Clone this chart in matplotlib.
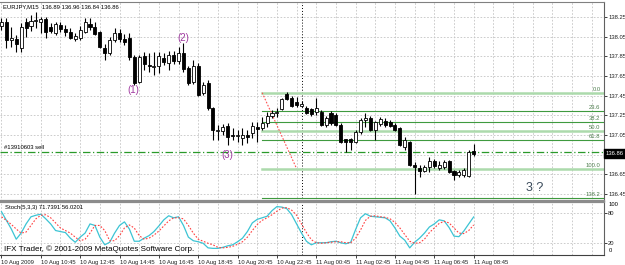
import matplotlib
matplotlib.use("Agg")
import matplotlib.pyplot as plt

plt.rcParams["font.family"] = ["Liberation Sans", "DejaVu Sans"]

# EURJPY M15, bars from 10 Aug 08:45 to 11 Aug 08:45
opens = [138.16, 138.20, 138.02, 138.03, 137.93, 138.20, 138.16, 138.21, 138.20, 138.23,
         138.15, 138.09, 138.17, 138.13, 138.10, 138.03, 138.04, 138.10, 138.18, 138.15,
         138.10, 137.93, 137.88, 138.02, 138.09, 138.03, 138.04, 137.84, 137.59, 137.85,
         137.76, 137.74, 137.75, 137.83, 137.78, 137.86, 137.80, 137.88, 137.73, 137.59,
         137.75, 137.48, 137.58, 137.32, 137.09, 137.09, 137.14, 137.05, 137.04, 137.02,
         137.05, 137.07, 137.13, 137.12, 137.17, 137.24, 137.27, 137.31, 137.47, 137.43,
         137.39, 137.34, 137.32, 137.31, 137.28, 137.28, 137.15, 137.27, 137.25, 137.15,
         137.01, 137.01, 136.98, 137.08, 137.20, 137.22, 137.10, 137.16, 137.19, 137.18,
         137.15, 137.12, 136.93, 136.98, 136.74, 136.71, 136.68, 136.72, 136.78, 136.71,
         136.72, 136.78, 136.68, 136.64, 136.64, 136.63, 136.89]
highs = [138.24, 138.24, 138.15, 138.07, 138.19, 138.24, 138.27, 138.30, 138.25, 138.25,
         138.19, 138.20, 138.20, 138.17, 138.14, 138.09, 138.16, 138.24, 138.24, 138.20,
         138.11, 137.98, 138.05, 138.14, 138.13, 138.08, 138.09, 137.86, 137.86, 137.89,
         137.88, 137.89, 137.89, 137.88, 137.90, 137.90, 137.94, 137.99, 137.75, 137.81,
         137.78, 137.59, 137.61, 137.33, 137.15, 137.16, 137.17, 137.12, 137.10, 137.12,
         137.10, 137.18, 137.18, 137.23, 137.28, 137.30, 137.32, 137.43, 137.49, 137.45,
         137.44, 137.40, 137.34, 137.32, 137.43, 137.30, 137.24, 137.29, 137.27, 137.17,
         137.01, 137.02, 137.10, 137.22, 137.27, 137.24, 137.19, 137.23, 137.22, 137.20,
         137.17, 137.13, 137.03, 136.99, 136.77, 136.74, 136.74, 136.83, 136.81, 136.78,
         136.80, 136.80, 136.69, 136.69, 136.71, 136.90, 136.96]
lows = [138.12, 137.93, 137.94, 137.89, 137.89, 138.05, 138.11, 138.14, 138.09, 138.04,
        138.09, 138.07, 138.10, 138.06, 138.03, 138.01, 138.02, 138.09, 138.12, 138.07,
        137.93, 137.81, 137.86, 138.00, 138.00, 137.97, 137.81, 137.56, 137.58, 137.71,
        137.69, 137.66, 137.68, 137.76, 137.71, 137.77, 137.77, 137.69, 137.56, 137.57,
        137.45, 137.46, 137.30, 137.00, 137.00, 137.05, 136.95, 137.00, 136.98, 136.95,
        136.97, 137.02, 136.98, 137.10, 137.13, 137.22, 137.23, 137.30, 137.41, 137.33,
        137.33, 137.33, 137.26, 137.24, 137.25, 137.14, 137.13, 137.15, 137.14, 136.97,
        136.88, 136.90, 136.97, 137.06, 137.13, 137.09, 137.00, 137.14, 137.13, 137.13,
        137.09, 136.94, 136.90, 136.73, 136.45, 136.62, 136.67, 136.67, 136.71, 136.69,
        136.70, 136.66, 136.59, 136.62, 136.62, 136.62, 136.84]
closes = [138.20, 138.02, 138.04, 137.98, 138.15, 138.14, 138.21, 138.22, 138.23, 138.10,
          138.11, 138.18, 138.13, 138.10, 138.04, 138.06, 138.12, 138.20, 138.15, 138.08,
          137.94, 137.88, 138.02, 138.09, 138.03, 138.00, 137.84, 137.58, 137.84, 137.77,
          137.75, 137.75, 137.85, 137.79, 137.86, 137.80, 137.88, 137.72, 137.58, 137.75,
          137.46, 137.56, 137.32, 137.10, 137.10, 137.13, 137.03, 137.04, 137.05, 137.05,
          137.03, 137.14, 137.11, 137.17, 137.24, 137.27, 137.28, 137.42, 137.42, 137.34,
          137.35, 137.37, 137.27, 137.26, 137.32, 137.15, 137.22, 137.17, 137.15, 136.98,
          136.98, 136.98, 137.08, 137.20, 137.22, 137.10, 137.18, 137.21, 137.15, 137.14,
          137.10, 136.95, 137.00, 136.74, 136.72, 136.68, 136.72, 136.79, 136.73, 136.74,
          136.77, 136.67, 136.64, 136.67, 136.69, 136.88, 136.86]

stoch_main = [82, 65, 48, 28, 40, 58, 72, 75, 77, 68, 58, 45, 43, 41, 30, 22, 32, 40, 58, 55,
              32, 17, 22, 40, 55, 62, 48, 24, 24, 30, 35, 43, 54, 66, 74, 70, 72, 55, 32, 25,
              23, 20, 11, 10, 10, 12, 15, 17, 23, 30, 43, 60, 67, 70, 73, 84, 92, 91, 88, 76,
              58, 40, 24, 17, 21, 21, 21, 23, 24, 21, 19, 22, 47, 70, 78, 73, 72, 71, 70, 64,
              50, 34, 26, 11, 22, 30, 40, 52, 58, 66, 64, 51, 34, 33, 44, 58, 71.7]
stoch_signal = [72, 65, 57, 48, 40, 42, 55, 68, 75, 76, 70, 60, 50, 45, 40, 32, 25, 28, 40, 55,
                55, 45, 25, 25, 35, 50, 56, 50, 35, 28, 30, 36, 44, 54, 64, 70, 70, 68, 55, 40,
                28, 24, 20, 17, 12, 11, 12, 14, 18, 23, 32, 45, 57, 65, 70, 76, 83, 89, 90, 85,
                75, 58, 41, 27, 21, 20, 21, 22, 23, 23, 21, 21, 30, 46, 65, 73, 74, 72, 71, 68,
                61, 50, 37, 24, 20, 21, 28, 41, 50, 59, 63, 60, 50, 40, 39, 45, 56.0]

time_labels = ["10 Aug 2009", "10 Aug 10:45", "10 Aug 12:45", "10 Aug 14:45", "10 Aug 16:45",
               "10 Aug 18:45", "10 Aug 20:45", "10 Aug 22:45", "11 Aug 00:45", "11 Aug 02:45",
               "11 Aug 04:45", "11 Aug 06:45", "11 Aug 08:45"]
price_grid = [138.25, 138.05, 137.85, 137.65, 137.45, 137.25, 137.05, 136.85, 136.65, 136.45]
price_labels = ["138.25", "138.05", "137.85", "137.65", "137.45", "137.25", "137.05", "", "136.65", "136.45"]
fib_levels = [0.0, 23.6, 38.2, 50.0, 61.8, 100.0, 138.2]
fib_high = 137.48
fib_low = 136.707
fib_start, fib_end = 53, 60
order_price = 136.875
last_price = 136.86
separator_bar = 61

W, H = 625, 265
FS = 4.2
fig = plt.figure(figsize=(W / 100, H / 100), dpi=100)
fig.patch.set_facecolor("white")

ax = fig.add_axes([0, 1 - 201 / H, 604 / W, 199 / H])
ax2 = fig.add_axes([0, 1 - 255 / H, 604 / W, 53 / H])

n = len(opens)
xs = list(range(n))
x_min, x_max = -0.3, 122.5

grid_kw = dict(color="#c4c4c4", lw=0.6, ls=(0, (2, 2)), zorder=0)
for a in (ax, ax2):
    for gx in range(0, 124, 4):
        a.axvline(gx, **grid_kw)
    a.axvline(separator_bar, color="black", lw=0.7, ls=(0, (1, 2)), zorder=1)
for p in price_grid:
    ax.axhline(p, **grid_kw)

# candles
for i in xs:
    o, h, l, c = opens[i], highs[i], lows[i], closes[i]
    ax.vlines(i, l, h, color="black", lw=0.8, zorder=3)
    fc = "white" if c >= o else "black"
    ax.bar(i, c - o if c != o else 0.003, bottom=o, width=0.62, color=fc,
           edgecolor="black", lw=0.6, zorder=4)

# fibonacci
rng = fib_high - fib_low
for lev in fib_levels:
    p = fib_high - lev / 100 * rng
    if lev in (0.0, 50.0, 100.0):
        ax.plot([fib_start, x_max], [p, p], color="#acdaac", lw=1.8, zorder=2)
    else:
        ax.plot([fib_start, x_max], [p, p], color="#3f9a3f", lw=0.8, zorder=2)
    ax.text(121.8, p + 0.01, f"{lev:.1f}", fontsize=FS, color="#4f7f4f",
            ha="right", va="bottom", zorder=5)
ax.plot([fib_start, fib_end], [fib_high, fib_low], color="#ff5050", lw=0.8,
        ls=(0, (1.5, 1.5)), zorder=2)

# order line
ax.axhline(order_price, color="#2a9a2a", lw=0.9, ls=(0, (6, 2, 1, 2)), zorder=2)
ax.text(0.6, order_price + 0.025, "#13910603 sell", fontsize=FS, color="black",
        ha="left", va="bottom")

# wave marks
purple = "#a03aa0"
ax.text(26.9, 137.51, "(1)", fontsize=7, color=purple, ha="center", va="center")
ax.text(36.9, 138.04, "(2)", fontsize=7, color=purple, ha="center", va="center")
ax.text(46.0, 136.85, "(3)", fontsize=7, color=purple, ha="center", va="center")
ax.text(108.4, 136.51, "3 ?", fontsize=9, color="#3a4a5a", ha="center", va="center")

ax.set_xlim(x_min, x_max)
ax.set_ylim(136.378, 138.403)
ax.set_xticks([])
ax.yaxis.tick_right()
ax.set_yticks(price_grid)
ax.set_yticklabels(price_labels)
ax.tick_params(axis="y", labelsize=FS, length=2, width=0.6, pad=1, colors="#202020")

# stochastic
ax2.plot(xs, stoch_main, color="#3cc4d4", lw=0.9, zorder=3)
ax2.plot(xs, stoch_signal, color="#ff4040", lw=0.8, ls=(0, (1.5, 1.5)), zorder=3)
for lv in (80, 20):
    ax2.axhline(lv, **grid_kw)
ax2.set_xlim(x_min, x_max)
ax2.set_ylim(-3, 101)
ax2.yaxis.tick_right()
ax2.set_yticks([80, 20])
ax2.set_yticklabels(["80", "20"])
ax2.tick_params(axis="y", labelsize=FS, length=2, width=0.6, pad=1, colors="#202020")
ax2.text(1.008, 0.95, "100", transform=ax2.transAxes, fontsize=FS, va="center")
ax2.text(1.008, 0.09, "0", transform=ax2.transAxes, fontsize=FS, va="center")
ax2.set_xticks(list(range(0, n, 8)))
ax2.set_xticklabels(time_labels, ha="left")
ax2.tick_params(axis="x", labelsize=FS, length=2, width=0.6, pad=1.5, colors="#202020")

for a in (ax, ax2):
    a.spines["left"].set_visible(False)
    a.spines["right"].set_color("#606060")
    a.spines["right"].set_linewidth(0.8)
ax.spines["top"].set_color("#808080")
ax.spines["top"].set_linewidth(0.8)
ax.spines["bottom"].set_color("#8c8c8c")
ax.spines["bottom"].set_linewidth(1.6)
ax2.spines["top"].set_color("#8c8c8c")
ax2.spines["top"].set_linewidth(1.6)
ax2.spines["bottom"].set_color("#404040")
ax2.spines["bottom"].set_linewidth(0.8)

# texts
fig.text(3 / W, 1 - 7 / H, "EURJPY,M15  136.89 136.96 136.84 136.86", fontsize=FS,
         ha="left", va="center")
fig.text(5 / W, 1 - 208 / H, "Stoch(5,3,3) 71.7391 56.0201", fontsize=FS,
         ha="left", va="center")
fig.text(4 / W, 1 - 249 / H, "IFX Trader, \u00a9 2001-2009 MetaQuotes Software Corp.",
         fontsize=5.8, ha="left", va="center")

# current price box
y_last = ax.transData.transform((0, last_price))[1] / H
fig.text(606 / W, y_last, f"{last_price:.2f}", fontsize=FS, color="white",
         ha="left", va="center",
         bbox=dict(boxstyle="square,pad=0.3", fc="black", ec="black"))

fig.savefig("out.png", dpi=100)
